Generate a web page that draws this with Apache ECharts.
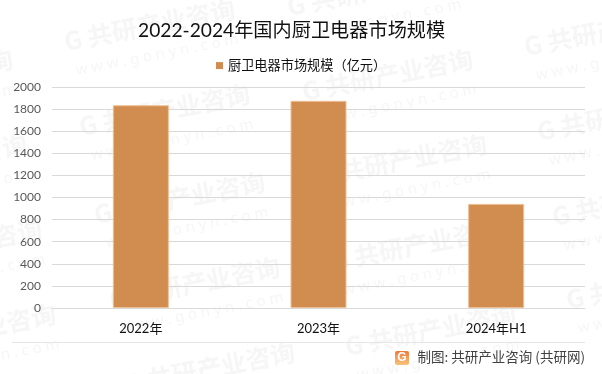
<!DOCTYPE html>
<html>
<head>
<meta charset="utf-8">
<title>2022-2024年国内厨卫电器市场规模</title>
<script src="https://cdn.jsdelivr.net/npm/echarts@6/dist/echarts.min.js"></script>
<style>
  html, body { margin: 0; padding: 0; background: #fff; }
  #chart { width: 602px; height: 374px; }
</style>
</head>
<body>
<div id="chart"></div>
<script>
var categories = ['2022年', '2023年', '2024年H1'];
var marketSize = [1835, 1875, 942];
var seriesName = '厨卫电器市场规模（亿元）';
var titleText = '2022-2024年国内厨卫电器市场规模';
var creditText = '制图: 共研产业咨询 (共研网)';

var fontFamily = 'Lato, "Noto Sans CJK SC", sans-serif';

// 水印位置
var markStarts = [
  [-157, 95], [-143, 180], [-128, 265], [-114, 350],
  [65, 45], [80, 130], [95, 218], [110, 303], [125, 388],
  [288, 10], [303, 95], [317, 180], [332, 265], [346, 350],
  [525, 50], [538, 135], [553, 220], [567, 303]
];

function waterMark(pos) {
  return {
    type: 'group',
    x: pos[0],
    y: pos[1],
    rotation: 11 * Math.PI / 180,
    silent: true,
    z: -10,
    children: [{
      type: 'text',
      z: -10,
      style: {
        x: 0, y: -16,
        text: 'G 共研产业咨询',
        fill: '#f6f6f6',
        font: 'bold 25px "Noto Sans CJK SC"'
      }
    }, {
      type: 'text',
      z: -10,
      style: {
        x: 6, y: 20,
        text: 'w w w . g o n y n . c o m',
        fill: '#f6f6f6',
        font: '15px "Noto Sans"'
      }
    }]
  };
}

var graphics = markStarts.map(waterMark);

// 底部分隔线
graphics.push({
  type: 'line',
  silent: true,
  shape: { x1: 12, y1: 342.5, x2: 585, y2: 342.5 },
  style: { stroke: '#e6e6e6', lineWidth: 1 }
});

// 共研 logo
graphics.push({
  type: 'rect',
  silent: true,
  shape: { x: 395, y: 351, width: 14, height: 14, r: 2 },
  style: {
    fill: new echarts.graphic.LinearGradient(0, 0, 0, 1, [
      { offset: 0, color: '#f0793a' },
      { offset: 1, color: '#f8c27a' }
    ])
  }
});
graphics.push({
  type: 'text',
  silent: true,
  style: {
    x: 402, y: 358,
    text: 'G',
    fill: '#fff',
    align: 'center',
    verticalAlign: 'middle',
    font: 'bold 12px "Liberation Sans"'
  }
});
graphics.push({
  type: 'text',
  silent: true,
  style: {
    x: 585, y: 357,
    text: creditText,
    fill: '#404040',
    align: 'right',
    verticalAlign: 'middle',
    font: '13.5px "Noto Sans CJK SC"'
  }
});

var chart = echarts.init(document.getElementById('chart'), null, { renderer: 'canvas' });

chart.setOption({
  backgroundColor: '#fff',
  animation: false,
  textStyle: { fontFamily: fontFamily },
  title: {
    text: titleText,
    left: 133,
    top: 16,
    textStyle: { color: '#111', fontSize: 19.2, fontWeight: 'normal', fontFamily: fontFamily }
  },
  legend: {
    top: 54,
    left: 211,
    itemWidth: 7,
    itemHeight: 7,
    itemGap: 3,
    icon: 'rect',
    itemStyle: { borderWidth: 0 },
    textStyle: { color: '#111', fontSize: 13.2, fontFamily: fontFamily }
  },
  grid: { left: 52, right: 17, top: 87, bottom: 66 },
  xAxis: {
    type: 'category',
    data: categories,
    axisLine: { lineStyle: { color: '#d9d9d9' } },
    axisTick: { show: false },
    axisLabel: { color: '#111', fontSize: 13, margin: 14, fontFamily: fontFamily }
  },
  yAxis: {
    type: 'value',
    min: 0,
    max: 2000,
    interval: 200,
    axisLine: { show: false },
    axisTick: { show: false },
    axisLabel: {
      color: '#595959',
      fontSize: 12,
      margin: 11,
      fontFamily: fontFamily,
      formatter: function (v) { return String(v); }
    },
    splitLine: { lineStyle: { color: '#d9d9d9' } }
  },
  series: [{
    name: seriesName,
    type: 'bar',
    data: marketSize,
    barWidth: 56,
    itemStyle: { color: '#d18c4f', borderColor: '#eebf94', borderWidth: 1 }
  }],
  graphic: graphics
});
</script>
</body>
</html>
